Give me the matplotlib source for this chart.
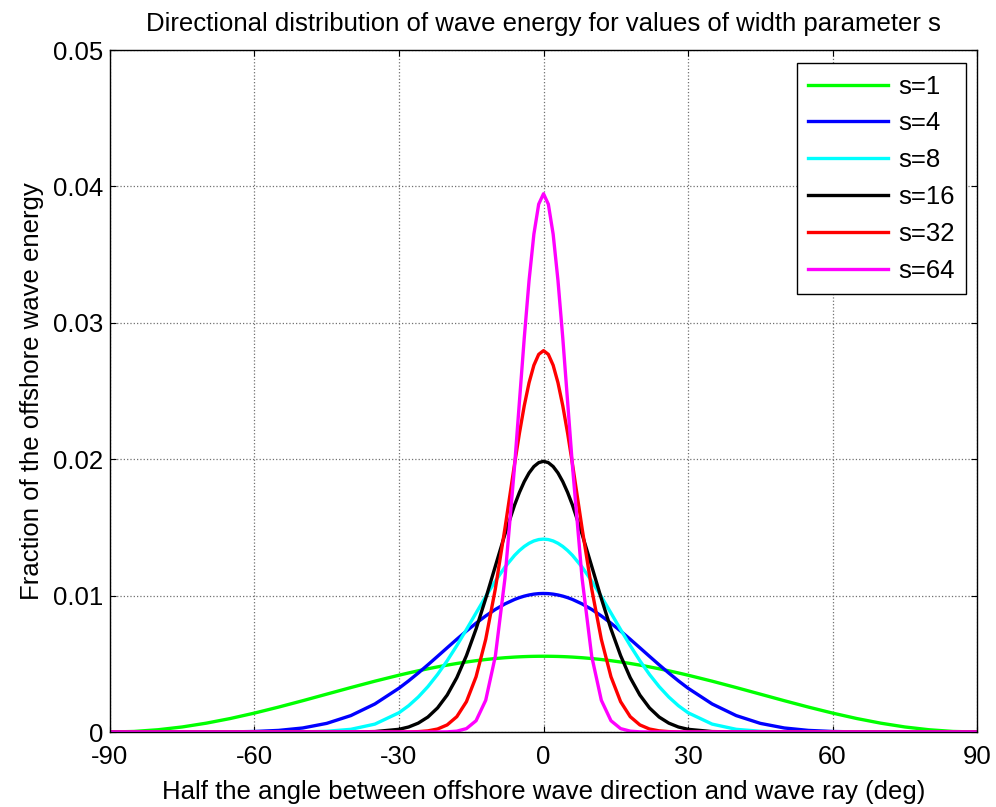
import matplotlib.pyplot as plt

plt.rcParams['font.family'] = ['Liberation Sans', 'DejaVu Sans']
plt.rcParams['axes.unicode_minus'] = False

# half angle (deg)
angle = [-90, -85, -80, -75, -70, -65, -60, -55, -50, -45, -40, -35, -30,
         -28, -26, -24, -22, -20, -18, -16, -14, -12, -10, -8,
         -6, -5, -4, -3, -2, -1, 0, 1, 2, 3, 4, 5, 6,
         8, 10, 12, 14, 16, 18, 20, 22, 24, 26, 28,
         30, 35, 40, 45, 50, 55, 60, 65, 70, 75, 80, 85, 90]

s1 = [0.0, 0.000042, 0.000168, 0.000372, 0.000650, 0.000992, 0.001389, 0.001828,
      0.002295, 0.002778, 0.003260, 0.003728, 0.004167,
      0.004331, 0.004488, 0.004637, 0.004776, 0.004906, 0.005025, 0.005134,
      0.005231, 0.005316, 0.005388, 0.005448,
      0.005495, 0.005514, 0.005529, 0.005541, 0.005549, 0.005554, 0.005556,
      0.005554, 0.005549, 0.005541, 0.005529, 0.005514, 0.005495,
      0.005448, 0.005388, 0.005316, 0.005231, 0.005134, 0.005025, 0.004906,
      0.004776, 0.004637, 0.004488, 0.004331,
      0.004167, 0.003728, 0.003260, 0.002778, 0.002295, 0.001828, 0.001389,
      0.000992, 0.000650, 0.000372, 0.000168, 0.000042, 0.0]

s4 = [0.0, 0.0, 0.0, 0.0, 0.000002, 0.000010, 0.000040, 0.000119,
      0.000296, 0.000635, 0.001205, 0.002059, 0.003214,
      0.003752, 0.004327, 0.004928, 0.005549, 0.006177, 0.006800, 0.007405,
      0.007980, 0.008512, 0.008988, 0.009394,
      0.009722, 0.009854, 0.009963, 0.010048, 0.010110, 0.010147, 0.010159,
      0.010147, 0.010110, 0.010048, 0.009963, 0.009854, 0.009722,
      0.009394, 0.008988, 0.008512, 0.007980, 0.007405, 0.006800, 0.006177,
      0.005549, 0.004928, 0.004327, 0.003752,
      0.003214, 0.002059, 0.001205, 0.000635, 0.000296, 0.000119, 0.000040,
      0.000010, 0.000002, 0.0, 0.0, 0.0, 0.0]

s8 = [0.0, 0.0, 0.0, 0.0, 0.0, 0.0, 0.0, 0.000002,
      0.000012, 0.000055, 0.000199, 0.000581, 0.001416,
      0.001930, 0.002566, 0.003329, 0.004220, 0.005228, 0.006337, 0.007515,
      0.008729, 0.009931, 0.011071, 0.012096,
      0.012955, 0.013308, 0.013604, 0.013838, 0.014008, 0.014111, 0.014145,
      0.014111, 0.014008, 0.013838, 0.013604, 0.013308, 0.012955,
      0.012096, 0.011071, 0.009931, 0.008729, 0.007515, 0.006337, 0.005228,
      0.004220, 0.003329, 0.002566, 0.001930,
      0.001416, 0.000581, 0.000199, 0.000055, 0.000012, 0.000002, 0.0,
      0.0, 0.0, 0.0, 0.0, 0.0, 0.0]

s16 = [0.0, 0.0, 0.0, 0.0, 0.0, 0.0, 0.0, 0.0,
       0.0, 0.0, 0.000004, 0.000034, 0.000199,
       0.000369, 0.000653, 0.001099, 0.001766, 0.002711, 0.003984, 0.005602,
       0.007557, 0.009784, 0.012159, 0.014514,
       0.016647, 0.017568, 0.018357, 0.018995, 0.019464, 0.019750, 0.019847,
       0.019750, 0.019464, 0.018995, 0.018357, 0.017568, 0.016647,
       0.014514, 0.012159, 0.009784, 0.007557, 0.005602, 0.003984, 0.002711,
       0.001766, 0.001099, 0.000653, 0.000369,
       0.000199, 0.000034, 0.000004, 0.0, 0.0, 0.0, 0.0,
       0.0, 0.0, 0.0, 0.0, 0.0, 0.0]

s32 = [0.0, 0.0, 0.0, 0.0, 0.0, 0.0, 0.0, 0.0,
       0.0, 0.0, 0.0, 0.0, 0.000003,
       0.000010, 0.000030, 0.000086, 0.000221, 0.000522, 0.001126, 0.002228,
       0.004054, 0.006794, 0.010494, 0.014952,
       0.019672, 0.021906, 0.023919, 0.025610, 0.026890, 0.027688, 0.027960,
       0.027688, 0.026890, 0.025610, 0.023919, 0.021906, 0.019672,
       0.014952, 0.010494, 0.006794, 0.004054, 0.002228, 0.001126, 0.000522,
       0.000221, 0.000086, 0.000030, 0.000010,
       0.000003, 0.0, 0.0, 0.0, 0.0, 0.0, 0.0,
       0.0, 0.0, 0.0, 0.0, 0.0, 0.0]

s64 = [0.0, 0.0, 0.0, 0.0, 0.0, 0.0, 0.0, 0.0,
       0.0, 0.0, 0.0, 0.0, 0.0,
       0.0, 0.0, 0.0, 0.000003, 0.000014, 0.000064, 0.000251,
       0.000830, 0.002330, 0.005559, 0.011286,
       0.019536, 0.024225, 0.028880, 0.033109, 0.036501, 0.038700, 0.039463,
       0.038700, 0.036501, 0.033109, 0.028880, 0.024225, 0.019536,
       0.011286, 0.005559, 0.002330, 0.000830, 0.000251, 0.000064, 0.000014,
       0.000003, 0.0, 0.0, 0.0,
       0.0, 0.0, 0.0, 0.0, 0.0, 0.0, 0.0,
       0.0, 0.0, 0.0, 0.0, 0.0, 0.0]

series = [s1, s4, s8, s16, s32, s64]
labels = ['s=1', 's=4', 's=8', 's=16', 's=32', 's=64']
colors = ['#00ff00', '#0000ff', '#00ffff', '#000000', '#ff0000', '#ff00ff']

fig = plt.figure(figsize=(9.96, 8.07), dpi=100)
ax = fig.add_axes([0.1104, 0.0929, 0.8706, 0.8451])

for y, lab, c in zip(series, labels, colors):
    ax.plot(angle, y, color=c, linewidth=2.4, label=lab, solid_joinstyle='round')

ax.set_xlim(-90, 90)
ax.set_ylim(0, 0.05)
ax.set_xticks([-90, -60, -30, 0, 30, 60, 90])
ax.set_yticks([0, 0.01, 0.02, 0.03, 0.04, 0.05])
ax.set_yticklabels(['0', '0.01', '0.02', '0.03', '0.04', '0.05'])
ax.tick_params(direction='in', top=True, right=True, length=4, labelsize=18.5)
ax.tick_params(axis='x', pad=9)
ax.tick_params(axis='y', pad=5)
ax.grid(True, color='#707070', linestyle=':', linewidth=0.9)
for sp in ax.spines.values():
    sp.set_linewidth(1.0)

ax.set_title('Directional distribution of wave energy for values of width parameter s',
             fontsize=18.5, pad=14)
ax.set_xlabel('Half the angle between offshore wave direction and wave ray (deg)',
              fontsize=18.5, labelpad=8)
ax.set_ylabel('Fraction of the offshore wave energy', fontsize=18.5, labelpad=6)

leg = ax.legend(loc='upper right', bbox_to_anchor=(0.9873, 0.981), borderaxespad=0,
                fontsize=18.5, handlelength=3.1, handletextpad=0.4, labelspacing=0.5,
                fancybox=False, edgecolor='black', framealpha=1, borderpad=0.45)
leg.get_frame().set_linewidth(1.0)

plt.savefig('out.png', dpi=100)
